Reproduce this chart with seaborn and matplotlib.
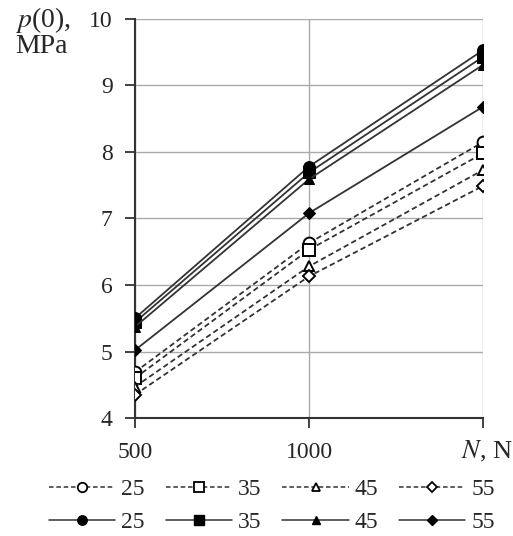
import matplotlib
matplotlib.use("Agg")
import matplotlib.pyplot as plt
import seaborn as sns
import pandas as pd
from matplotlib.lines import Line2D

# donnees
forces = [500, 1000, 1500]
groups = ["25", "35", "45", "55"]
dashed_vals = {
    "25": [4.69, 6.63, 8.15],
    "35": [4.60, 6.53, 7.98],
    "45": [4.47, 6.28, 7.73],
    "55": [4.35, 6.13, 7.49],
}
solid_vals = {
    "25": [5.50, 7.78, 9.53],
    "35": [5.44, 7.69, 9.43],
    "45": [5.37, 7.59, 9.31],
    "55": [5.02, 7.08, 8.68],
}
y_ticks = [4, 5, 6, 7, 8, 9, 10]
x_ticks = [500, 1000, 1500]
x_ticklabels = ["500", "1000", ""]

markers = {"25": "o", "35": "s", "45": "^", "55": "D"}
msize = {"25": 8.5, "35": 8.5, "45": 7.5, "55": 6}

sns.set_style("white")
plt.rcParams["font.family"] = ["Liberation Serif", "DejaVu Serif"]
plt.rcParams["mathtext.fontset"] = "stix"

fig = plt.figure(figsize=(5.13, 5.36), dpi=100)
ax = fig.add_axes([0.263, 0.22, 0.679, 0.745])

line_col = "#333333"
handles = []
for g in groups:
    df = pd.DataFrame({"N": forces, "p": dashed_vals[g]})
    sns.lineplot(data=df, x="N", y="p", ax=ax, color=line_col, lw=1.3,
                 linestyle=(0, (3, 1.8)), marker=markers[g], markersize=msize[g],
                 markerfacecolor="white", markeredgecolor="black",
                 markeredgewidth=1.4, zorder=3)
    df2 = pd.DataFrame({"N": forces, "p": solid_vals[g]})
    sns.lineplot(data=df2, x="N", y="p", ax=ax, color=line_col, lw=1.3,
                 marker=markers[g], markersize=msize[g],
                 markerfacecolor="black", markeredgecolor="black", zorder=3)
    handles.append(Line2D([], [], color=line_col, lw=1.1, linestyle=(0, (3, 1.8)),
                          marker=markers[g], markersize=msize[g] * 0.8,
                          markerfacecolor="white", markeredgecolor="black",
                          markeredgewidth=1.3, label=g))
    handles.append(Line2D([], [], color=line_col, lw=1.1,
                          marker=markers[g], markersize=msize[g] * 0.8,
                          markerfacecolor="black", markeredgecolor="black",
                          label=g))

ax.set_xlim(500, 1500)
ax.set_ylim(4, 10)
ax.set_xticks(x_ticks)
ax.set_xticklabels(x_ticklabels)
ax.set_yticks(y_ticks)
ax.tick_params(axis="both", labelsize=17, direction="out", length=7,
               width=1.3, color="#333333", pad=9, bottom=True, left=True)
ax.tick_params(axis="x", pad=10)
ax.grid(True, color="#aaaaaa", lw=1)
ax.set_xlabel("")
ax.set_ylabel("")
for side in ["top", "right"]:
    ax.spines[side].set_visible(False)
for side in ["left", "bottom"]:
    ax.spines[side].set_color("#333333")
    ax.spines[side].set_linewidth(1.5)

fig.text(0.03, 0.963, "$p$(0),", fontsize=20, ha="left", va="center")
fig.text(0.03, 0.914, "MPa", fontsize=20, ha="left", va="center")
fig.text(1.0, 0.158, "$N$, N", fontsize=19, ha="right", va="center")

fig.legend(handles=handles, ncol=4, loc="upper center",
           bbox_to_anchor=(0.53, 0.138), frameon=False, fontsize=17,
           handlelength=2.8, handletextpad=0.25, columnspacing=0.9,
           labelspacing=0.5, borderpad=0.2)

fig.savefig("out.png", dpi=100)
